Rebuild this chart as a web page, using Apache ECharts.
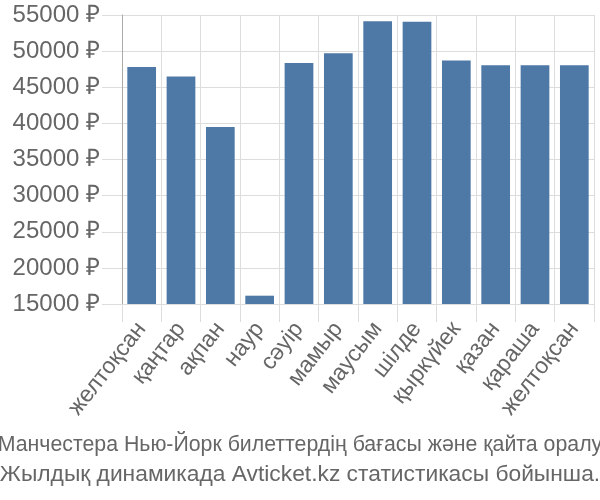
<!DOCTYPE html>
<html>
<head>
<meta charset="utf-8">
<script src="https://cdn.jsdelivr.net/npm/echarts@6/dist/echarts.min.js"></script>
<style>html,body{margin:0;padding:0;background:#fff;}#c{width:600px;height:500px;}</style>
</head>
<body>
<div id="c"></div>
<script>
const categories = ['желтоқсан','қаңтар','ақпан','наур','сәуір','мамыр','маусым','шілде','қыркүйек','қазан','қараша','желтоқсан'];
const prices = [47800, 46500, 39500, 16150, 48350, 49700, 54150, 54050, 48700, 48050, 48050, 48050];
const yMin = 15000, yMax = 55000, yStep = 5000;
const currency = ' ₽';
const titleLines = ['Манчестера Нью-Йорк билеттердің бағасы және қайта оралу', 'Жылдық динамикада Avticket.kz статистикасы бойынша.'];

const chart = echarts.init(document.getElementById('c'), null, {renderer: 'canvas'});
const font = '"Liberation Sans", Arial, sans-serif';
chart.setOption({
  animation: false,
  title: [{
    text: titleLines[0],
    left: 'center',
    top: 431,
    padding: 0,
    textStyle: {fontFamily: font, fontSize: 21.3, fontWeight: 'normal', color: '#666', lineHeight: 29}
  }, {
    text: titleLines[1],
    left: 'center',
    top: 460,
    padding: 0,
    textStyle: {fontFamily: font, fontSize: 22.8, fontWeight: 'normal', color: '#666', lineHeight: 29}
  }],
  grid: {left: 122, right: 6, top: 15, bottom: 196, containLabel: false},
  xAxis: {
    type: 'category',
    data: categories,
    boundaryGap: true,
    axisLine: {show: true, lineStyle: {color: '#ddd', width: 1}},
    axisTick: {show: true, length: 18, alignWithLabel: false, lineStyle: {color: '#ddd'}},
    splitLine: {show: true, lineStyle: {color: '#ddd', width: 1}},
    axisLabel: {rotate: 52, margin: 21, fontFamily: font, fontSize: 23, color: '#666', interval: 0}
  },
  yAxis: {
    type: 'value',
    min: yMin, max: yMax, interval: yStep,
    axisLine: {show: true, lineStyle: {color: '#aaa', width: 1}},
    axisTick: {show: true, length: 20, lineStyle: {color: '#ddd'}},
    splitLine: {show: true, lineStyle: {color: '#ddd', width: 1}},
    axisLabel: {margin: 22, fontFamily: font, fontSize: 24, color: '#666', formatter: v => v + currency}
  },
  series: [{
    type: 'bar',
    data: prices,
    barWidth: '73%',
    itemStyle: {color: '#4e79a7'}
  }]
});
</script>
</body>
</html>
